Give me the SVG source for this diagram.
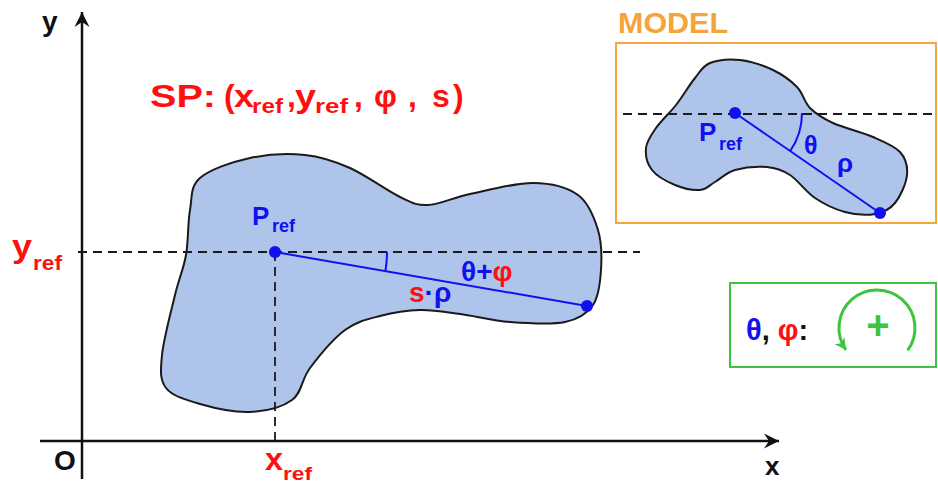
<svg xmlns="http://www.w3.org/2000/svg" width="938" height="484" viewBox="0 0 938 484">
<style>
text{font-family:"Liberation Sans",Arial,sans-serif;font-weight:bold}
.blob{fill:#AFC4EB;stroke:#1a1a1a;stroke-width:2}
.axis{stroke:#111;stroke-width:2.5;fill:none}
.dash{stroke:#1a1a1a;stroke-width:1.8;stroke-dasharray:9 6;fill:none}
.bl{stroke:#1010F0;stroke-width:2;fill:none}
.dot{fill:#1010F0}
.red{fill:#FF1010}
.blue{fill:#1010F0}
.blk{fill:#111}
</style>
<defs>
<marker id="ax" viewBox="-16 -9 17 18" refX="0" refY="0" markerWidth="17" markerHeight="18" markerUnits="userSpaceOnUse" orient="auto">
<path d="M0,0 L-15,-7.5 L-10,0 L-15,7.5 Z" fill="#111"/>
</marker>
<marker id="ga" viewBox="-12 -7 13 14" refX="0" refY="0" markerWidth="13" markerHeight="14" markerUnits="userSpaceOnUse" orient="auto">
<path d="M0,0 L-11,-6 L-8,0 L-11,6 Z" fill="#3CC43C"/>
</marker>
</defs>

<g id="main-shape">
<path class="blob" d="M190,210 C192.3,197.2 190,186.7 200,178 S232.5,161.8 250,158 S288.3,153.3 305,155 S334.2,161 350,168 S387,190.8 400,197 S416.3,205.5 428,205 S452.5,197.7 470,194 S515,182.8 533,183 S567.2,187.2 578,195 S594.2,217.5 598,230 S601.8,257.5 601,270 S599,296.3 593,305 S578.8,319.2 565,322 S527.5,323.3 510,322 S475,316 460,314 S433.3,309.7 420,310 S392.5,312.7 380,316 S356.7,321.3 345,330 S318.8,356.3 310,368 S302,392.7 292,400 S265.3,411.3 250,412 S214,408 200,404 S172.3,396.2 166,388 S160.5,370.5 162,355 S171,311.7 175,295 S183.5,269.2 186,255 S187.7,222.8 190,210 Z"/>
</g>

<g id="connectors">
<line class="axis" x1="82" y1="479" x2="82" y2="12" marker-end="url(#ax)"/>
<line class="axis" x1="40" y1="441" x2="779" y2="441" marker-end="url(#ax)"/>
<line class="dash" x1="78" y1="252" x2="640" y2="252"/>
<line class="dash" x1="275" y1="252" x2="275" y2="441"/>
<line class="bl" x1="275" y1="252" x2="587" y2="306"/>
<path class="bl" d="M387,252 A112,112 0 0 1 385.4,271.1"/>
</g>

<g id="main-points">
<circle class="dot" cx="275" cy="252" r="6"/>
<circle class="dot" cx="587" cy="306" r="6"/>
</g>

<g id="axis-labels">
<text x="42" y="31" font-size="28" class="blk">y</text>
<text x="54" y="470" font-size="28" class="blk">O</text>
<text x="765" y="475" font-size="26" class="blk">x</text>
</g>

<g id="sp-label">
<text font-size="32" class="red"><tspan x="150" y="107" textLength="66" lengthAdjust="spacingAndGlyphs">SP:</tspan><tspan x="224" y="107">(</tspan><tspan x="234" y="107" textLength="20" lengthAdjust="spacingAndGlyphs">x</tspan><tspan x="252" y="113" font-size="21" textLength="31" lengthAdjust="spacingAndGlyphs">ref</tspan><tspan x="287" y="107">,</tspan><tspan x="295" y="107" textLength="21" lengthAdjust="spacingAndGlyphs">y</tspan><tspan x="315" y="113" font-size="21" textLength="33" lengthAdjust="spacingAndGlyphs">ref</tspan><tspan x="354" y="107">,</tspan><tspan x="374" y="107">φ</tspan><tspan x="408" y="107">,</tspan><tspan x="432" y="107">s</tspan><tspan x="453" y="107">)</tspan></text>
</g>

<g id="ref-labels">
<text class="red" font-size="32"><tspan x="12" y="257" textLength="20" lengthAdjust="spacingAndGlyphs">y</tspan><tspan x="33" y="270" font-size="20" textLength="29" lengthAdjust="spacingAndGlyphs">ref</tspan></text>
<text class="red" font-size="32"><tspan x="265" y="470" textLength="18" lengthAdjust="spacingAndGlyphs">x</tspan><tspan x="283" y="480" font-size="19" textLength="29" lengthAdjust="spacingAndGlyphs">ref</tspan></text>
<text class="blue" font-size="26"><tspan x="252" y="225">P</tspan><tspan x="272" y="232" font-size="18">ref</tspan></text>
<text font-size="28"><tspan x="461" y="281" class="blue">θ+</tspan><tspan class="red">φ</tspan></text>
<text font-size="28"><tspan x="409" y="302" class="red">s</tspan><tspan class="blue">·ρ</tspan></text>
</g>

<g id="model">
<text x="618" y="33" font-size="29" fill="#F7A33C" textLength="110" lengthAdjust="spacingAndGlyphs">MODEL</text>
<rect x="616" y="43" width="320" height="180" fill="none" stroke="#F7A33C" stroke-width="2"/>
<path class="blob" d="M695,78 C700.7,71 702.5,66 710,63 S729.5,58.8 740,60 S763.5,65.5 773,70 S790.8,80.7 797,87 S804,102 810,108 S822.5,118.2 833,123 S861.8,132.2 873,137 S894.3,145.7 900,152 S907.8,166.5 907,175 S900.3,196.5 895,203 S883.3,212.5 875,214 S855,214.7 845,212 S824.2,204.2 815,198 S798,180.2 790,175 S776.2,167.8 767,167 S743.7,167.5 735,170 S720.8,178.7 715,182 S706.7,189.5 700,190 S683,188.3 675,185 S656.8,176.2 652,170 S645.3,155 646,148 S651,135.2 656,128 S669.5,113.3 676,105 S689.3,85 695,78 Z"/>
<line class="dash" x1="623" y1="114" x2="935" y2="114"/>
<line class="bl" x1="735" y1="113" x2="880" y2="213"/>
<path class="bl" d="M802,113 A67,67 0 0 1 790.2,151"/>
<circle class="dot" cx="735" cy="113" r="6"/>
<circle class="dot" cx="880" cy="213" r="6"/>
<text class="blue" font-size="26"><tspan x="699" y="141">P</tspan><tspan x="719" y="150" font-size="18">ref</tspan></text>
<text class="blue" x="804" y="154" font-size="25">θ</text>
<text class="blue" x="837" y="172" font-size="26">ρ</text>
</g>

<g id="sign-box">
<rect x="730" y="283" width="206" height="84" fill="none" stroke="#3CC43C" stroke-width="2"/>
<text font-size="29"><tspan x="746" y="340" class="blue">θ</tspan><tspan class="blk">, </tspan><tspan class="red">φ</tspan><tspan class="blk">:</tspan></text>
<path d="M907.7,350.3 A38,38 0 1 0 845.9,349.8" fill="none" stroke="#3CC43C" stroke-width="3" marker-end="url(#ga)"/>
<text x="878" y="339" font-size="40" fill="#3CC43C" text-anchor="middle">+</text>
</g>
</svg>
